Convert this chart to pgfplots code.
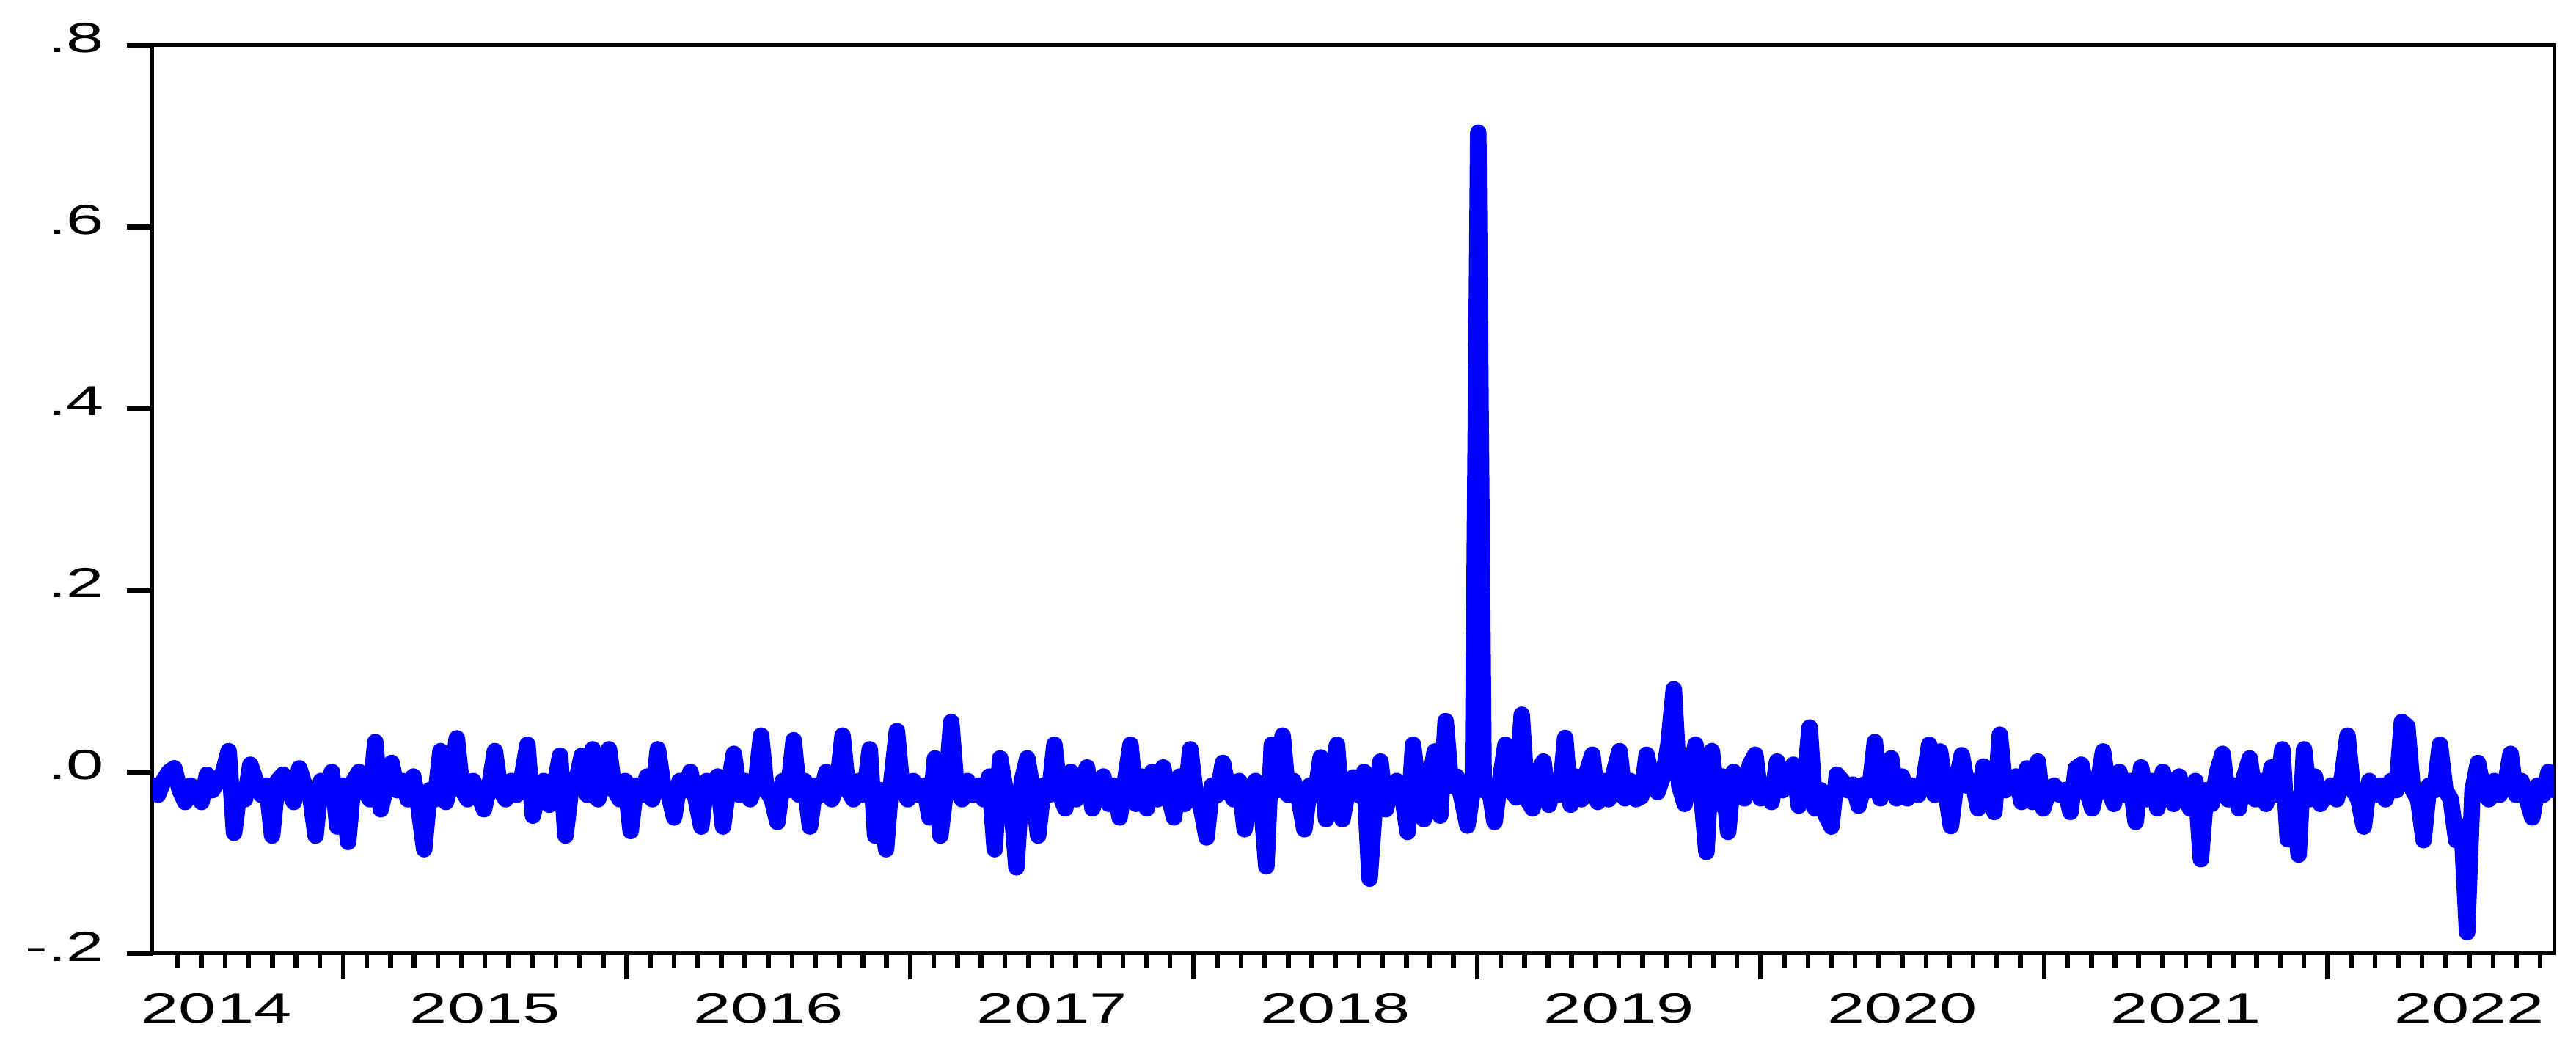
\documentclass[border=0pt]{standalone}
\usepackage{pgfplots}
\pgfplotsset{compat=1.18}
\usepackage{fontspec}
\setmainfont{Liberation Sans}
\newfontfamily\widesans[FakeStretch=1.6]{Liberation Sans}
\newcommand\lbl{\widesans\fontsize{11.5}{13}\selectfont}
\definecolor{evblue}{RGB}{0,0,255}

\begin{document}
\begin{tikzpicture}
\useasboundingbox (-41.6pt,-26pt) rectangle (660.8pt,260pt);
\begin{axis}[at={(0pt,0pt)}, anchor=south west, scale only axis,
  width=654.8pt, height=247.6pt,
  xmin=0, xmax=442, ymin=-0.2, ymax=0.8,
  axis line style={line width=1pt},
  tick align=outside, xtick pos=bottom, ytick pos=left,
  xtick={35.1,87.28,...,400.4}, xticklabel=\empty,
  minor xtick={4.662,9.010,...,439.6},
  ytick={-0.2,0,0.2,0.4,0.6,0.8}, yticklabels={-.2,.0,.2,.4,.6,.8},
  major tick length=7pt, minor tick length=4pt,
  tick style={black, line width=1.3pt},
  yticklabel style={font=\lbl, inner sep=0pt, xshift=-6pt, yshift=2pt},
  clip mode=individual,
]
% weekly series, x = week number from the first observation
\addplot[evblue, line width=4.5pt, line join=round, line cap=round] coordinates {
(0,-0.015) (1,-0.025) (2,-0.010) (3,0.000) (4,0.004) (5,-0.020) (6,-0.033) (7,-0.015) (8,-0.025) (9,-0.033)
(10,-0.003) (11,-0.020) (12,-0.010) (13,0.000) (14,0.023) (15,-0.067) (16,-0.020) (17,-0.030) (18,0.008) (19,-0.010)
(20,-0.025) (21,-0.015) (22,-0.070) (23,-0.010) (24,-0.003) (25,-0.020) (26,-0.033) (27,0.004) (28,-0.015) (29,-0.025)
(30,-0.070) (31,-0.010) (32,-0.020) (33,0.000) (34,-0.060) (35,-0.015) (36,-0.077) (37,-0.010) (38,0.000) (39,-0.020)
(40,-0.030) (41,0.033) (42,-0.041) (43,-0.015) (44,0.010) (45,-0.020) (46,-0.010) (47,-0.030) (48,-0.005) (49,-0.040)
(50,-0.085) (51,-0.020) (52,-0.030) (53,0.023) (54,-0.033) (55,-0.010) (56,0.037) (57,-0.020) (58,-0.030) (59,-0.010)
(60,-0.025) (61,-0.041) (62,-0.015) (63,0.023) (64,-0.020) (65,-0.030) (66,-0.010) (67,-0.025) (68,-0.005) (69,0.030)
(70,-0.048) (71,-0.020) (72,-0.010) (73,-0.036) (74,-0.015) (75,0.018) (76,-0.070) (77,-0.020) (78,-0.010) (79,0.018)
(80,-0.025) (81,0.025) (82,-0.030) (83,-0.010) (84,0.025) (85,-0.020) (86,-0.030) (87,-0.010) (88,-0.065) (89,-0.015)
(90,-0.025) (91,-0.005) (92,-0.030) (93,0.025) (94,-0.015) (95,-0.025) (96,-0.050) (97,-0.010) (98,-0.020) (99,0.000)
(100,-0.030) (101,-0.060) (102,-0.010) (103,-0.020) (104,-0.005) (105,-0.060) (106,-0.015) (107,0.020) (108,-0.025) (109,-0.010)
(110,-0.030) (111,-0.015) (112,0.040) (113,-0.020) (114,-0.030) (115,-0.055) (116,-0.010) (117,-0.020) (118,0.035) (119,-0.025)
(120,-0.010) (121,-0.060) (122,-0.015) (123,-0.025) (124,0.000) (125,-0.030) (126,-0.015) (127,0.040) (128,-0.020) (129,-0.030)
(130,-0.010) (131,-0.025) (132,0.025) (133,-0.070) (134,-0.020) (135,-0.085) (136,-0.010) (137,0.045) (138,-0.020) (139,-0.030)
(140,-0.010) (141,-0.025) (142,-0.015) (143,-0.050) (144,0.015) (145,-0.070) (146,-0.020) (147,0.055) (148,-0.020) (149,-0.030)
(150,-0.010) (151,-0.025) (152,-0.015) (153,-0.030) (154,-0.005) (155,-0.085) (156,0.015) (157,-0.020) (158,-0.030) (159,-0.105)
(160,-0.010) (161,0.015) (162,-0.020) (163,-0.070) (164,-0.015) (165,-0.025) (166,0.030) (167,-0.025) (168,-0.040) (169,0.000)
(170,-0.030) (171,-0.010) (172,0.005) (173,-0.040) (174,-0.015) (175,-0.005) (176,-0.035) (177,-0.015) (178,-0.050) (179,-0.010)
(180,0.030) (181,-0.035) (182,-0.005) (183,-0.040) (184,0.000) (185,-0.030) (186,0.005) (187,-0.025) (188,-0.050) (189,-0.005)
(190,-0.035) (191,0.025) (192,-0.025) (193,-0.040) (194,-0.072) (195,-0.015) (196,-0.025) (197,0.010) (198,-0.020) (199,-0.030)
(200,-0.010) (201,-0.063) (202,-0.020) (203,-0.010) (204,-0.030) (205,-0.104) (206,0.030) (207,-0.020) (208,0.040) (209,-0.025)
(210,-0.010) (211,-0.030) (212,-0.063) (213,-0.015) (214,-0.025) (215,0.016) (216,-0.052) (217,-0.010) (218,0.030) (219,-0.052)
(220,-0.020) (221,-0.006) (222,-0.025) (223,0.000) (224,-0.1175) (225,-0.035) (226,0.0115) (227,-0.041) (228,-0.015) (229,-0.010)
(230,-0.025) (231,-0.066) (232,0.030) (233,-0.020) (234,-0.052) (235,-0.010) (236,0.0226) (237,-0.048) (238,0.056) (239,-0.015)
(240,-0.005) (241,-0.030) (242,-0.059) (243,-0.020) (244,0.704) (245,-0.020) (246,-0.017) (247,-0.055) (248,-0.010) (249,0.030)
(250,-0.020) (251,-0.028) (252,0.063) (253,-0.030) (254,-0.040) (255,0.000) (256,0.0115) (257,-0.036) (258,-0.010) (259,-0.025)
(260,0.0375) (261,-0.036) (262,-0.005) (263,-0.030) (264,0.000) (265,0.019) (266,-0.033) (267,-0.010) (268,-0.030) (269,0.000)
(270,0.023) (271,-0.029) (272,-0.010) (273,-0.030) (274,-0.027) (275,0.019) (276,-0.010) (277,-0.022) (278,-0.005) (279,0.030)
(280,0.091) (281,-0.015) (282,-0.035) (283,0.000) (284,0.030) (285,-0.020) (286,-0.088) (287,0.023) (288,-0.035) (289,-0.005)
(290,-0.066) (291,0.000) (292,-0.020) (293,-0.029) (294,0.008) (295,0.019) (296,-0.029) (297,-0.015) (298,-0.033) (299,0.0115)
(300,-0.020) (301,-0.010) (302,0.008) (303,-0.037) (304,-0.015) (305,0.049) (306,-0.040) (307,-0.020) (308,-0.048) (309,-0.060)
(310,-0.003) (311,-0.010) (312,-0.020) (313,-0.014) (314,-0.037) (315,-0.014) (316,-0.020) (317,0.033) (318,-0.029) (319,-0.010)
(320,0.015) (321,-0.029) (322,-0.005) (323,-0.029) (324,-0.015) (325,-0.025) (326,-0.010) (327,0.030) (328,-0.025) (329,0.0226)
(330,-0.020) (331,-0.0595) (332,-0.010) (333,0.0185) (334,-0.015) (335,-0.010) (336,-0.040) (337,0.006) (338,-0.015) (339,-0.044)
(340,0.041) (341,-0.020) (342,-0.010) (343,-0.005) (344,-0.033) (345,0.004) (346,-0.033) (347,0.0115) (348,-0.040) (349,-0.020)
(350,-0.015) (351,-0.025) (352,-0.020) (353,-0.044) (354,0.004) (355,0.008) (356,-0.020) (357,-0.040) (358,-0.015) (359,0.0226)
(360,-0.020) (361,-0.035) (362,0.000) (363,-0.025) (364,-0.010) (365,-0.055) (366,0.005) (367,-0.030) (368,-0.010) (369,-0.040)
(370,0.000) (371,-0.020) (372,-0.035) (373,-0.005) (374,-0.025) (375,-0.040) (376,-0.010) (377,-0.096) (378,-0.020) (379,-0.035)
(380,0.000) (381,0.020) (382,-0.030) (383,-0.015) (384,-0.040) (385,-0.005) (386,0.015) (387,-0.030) (388,-0.010) (389,-0.035)
(390,0.005) (391,-0.025) (392,0.025) (393,-0.074) (394,-0.030) (395,-0.091) (396,0.025) (397,-0.030) (398,-0.005) (399,-0.035)
(400,-0.025) (401,-0.015) (402,-0.030) (403,-0.005) (404,0.040) (405,-0.020) (406,-0.030) (407,-0.060) (408,-0.010) (409,-0.025)
(410,-0.015) (411,-0.030) (412,-0.010) (413,-0.020) (414,0.055) (415,0.050) (416,-0.020) (417,-0.030) (418,-0.075) (419,-0.015)
(420,-0.020) (421,0.030) (422,-0.020) (423,-0.030) (424,-0.075) (425,-0.060) (426,-0.1765) (427,-0.020) (428,0.010) (429,-0.020)
(430,-0.030) (431,-0.010) (432,-0.025) (433,-0.015) (434,0.020) (435,-0.025) (436,-0.010) (437,-0.030) (438,-0.050) (439,-0.015)
(440,-0.025) (441,0.000) (442,-0.020)
};
\node[font=\lbl, anchor=base, yshift=-19pt] at (axis cs:11.75,-0.2) {2014};
\node[font=\lbl, anchor=base, yshift=-19pt] at (axis cs:61.19,-0.2) {2015};
\node[font=\lbl, anchor=base, yshift=-19pt] at (axis cs:113.37,-0.2) {2016};
\node[font=\lbl, anchor=base, yshift=-19pt] at (axis cs:165.55,-0.2) {2017};
\node[font=\lbl, anchor=base, yshift=-19pt] at (axis cs:217.73,-0.2) {2018};
\node[font=\lbl, anchor=base, yshift=-19pt] at (axis cs:269.91,-0.2) {2019};
\node[font=\lbl, anchor=base, yshift=-19pt] at (axis cs:322.09,-0.2) {2020};
\node[font=\lbl, anchor=base, yshift=-19pt] at (axis cs:374.27,-0.2) {2021};
\node[font=\lbl, anchor=base, yshift=-19pt] at (axis cs:426.45,-0.2) {2022};
\end{axis}
\end{tikzpicture}
\end{document}
